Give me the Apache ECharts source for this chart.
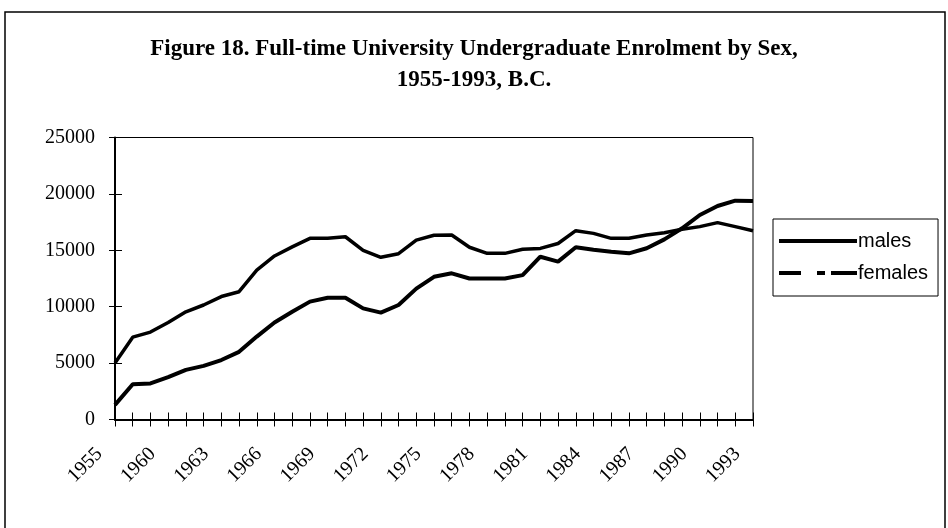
<!DOCTYPE html>
<html>
<head>
<meta charset="utf-8">
<script src="https://cdn.jsdelivr.net/npm/echarts@6/dist/echarts.min.js"></script>
<style>
html,body{margin:0;padding:0;background:#fff;}
#chart{width:948px;height:528px;}
</style>
</head>
<body>
<div id="chart"></div>
<script>
const titleLines = ['Figure 18. Full-time University Undergraduate Enrolment by Sex,', '1955-1993, B.C.'];
const years = ['1955','1958','1959','1960','1961','1962','1963','1964','1965','1966','1967','1968','1969','1970','1971','1972','1973','1974','1975','1976','1977','1978','1979','1980','1981','1982','1983','1984','1985','1986','1987','1988','1989','1990','1991','1992','1993'];
const males = [5000,7300,7750,8600,9550,10150,10900,11330,13250,14500,15300,16060,16060,16200,15000,14380,14700,15900,16330,16360,15270,14730,14730,15090,15170,15600,16740,16500,16060,16060,16360,16560,16860,17100,17450,17100,16740];
const females = [1300,3120,3200,3750,4400,4750,5270,6000,7350,8600,9550,10450,10800,10800,9850,9470,10150,11600,12650,12960,12500,12500,12500,12800,14430,14000,15270,15050,14880,14730,15180,15970,16950,18130,18930,19400,19370];
const yTicks = {min:0, max:25000, interval:5000};

const chart = echarts.init(document.getElementById('chart'), null, {renderer:'canvas'});
const serif = '"Liberation Serif","Times New Roman",serif';
const sans = '"Liberation Sans",Arial,sans-serif';
chart.setOption({
  animation:false,
  backgroundColor:'#fff',
  title:{
    text: titleLines.join('\n'),
    left:'center', top:29,
    textStyle:{fontFamily:serif, fontWeight:'bold', fontSize:23, lineHeight:31, color:'#000'}
  },
  graphic:[{type:'rect', shape:{x:5,y:12,width:940,height:540}, style:{fill:'none', stroke:'#000', lineWidth:1.5}, silent:true}],
  legend:{
    orient:'vertical', left:773, top:219, itemWidth:78, itemHeight:4, itemGap:12,
    padding:[12,10,13,6],
    borderColor:'#000', borderWidth:1,
    textStyle:{fontFamily:sans, fontSize:20, color:'#000', padding:[0,0,0,-4]},
    data:[
      {name:'males', icon:'path://M0,0H78V4H0Z'},
      {name:'females', icon:'path://M0,0H22V4H0Z M38,0H46V4H38Z M52,0H78V4H52Z'}
    ]
  },
  grid:{left:115, right:195, top:137.5, bottom:108.5, show:true, borderColor:'#000', borderWidth:1, backgroundColor:'transparent'},
  xAxis:[{
    type:'category', data:years, boundaryGap:false,
    axisLine:{lineStyle:{color:'#000', width:2}},
    axisTick:{interval:0, length:7, lineStyle:{color:'#000', width:1}},
    axisLabel:{interval:2, rotate:45, margin:16, padding:[0,22,0,0], fontFamily:serif, fontSize:20, color:'#000'},
    splitLine:{show:false}
  },{
    type:'category', data:years, boundaryGap:false, position:'bottom',
    axisLine:{show:false},
    axisTick:{inside:true, interval:0, length:7, lineStyle:{color:'#000', width:1}},
    axisLabel:{show:false}, splitLine:{show:false}
  }],
  yAxis:[{
    type:'value', min:yTicks.min, max:yTicks.max, interval:yTicks.interval,
    axisLine:{show:true, lineStyle:{color:'#000', width:2}},
    axisTick:{show:true, length:6, lineStyle:{color:'#000'}},
    axisLabel:{margin:20, fontFamily:serif, fontSize:20, color:'#000', formatter:function(v){return String(v);}},
    splitLine:{show:false}
  },{
    type:'value', min:yTicks.min, max:yTicks.max, interval:yTicks.interval, position:'left',
    axisLine:{show:false},
    axisTick:{show:true, inside:true, length:7, lineStyle:{color:'#000'}},
    axisLabel:{show:false}, splitLine:{show:false}
  }],
  series:[
    {name:'males', type:'line', data:males, showSymbol:false, symbol:'none', lineStyle:{color:'#000', width:3.5}, itemStyle:{color:'#000'}},
    {name:'females', type:'line', data:females, showSymbol:false, symbol:'none', lineStyle:{color:'#000', width:4}, itemStyle:{color:'#000'}}
  ]
});
</script>
</body>
</html>
